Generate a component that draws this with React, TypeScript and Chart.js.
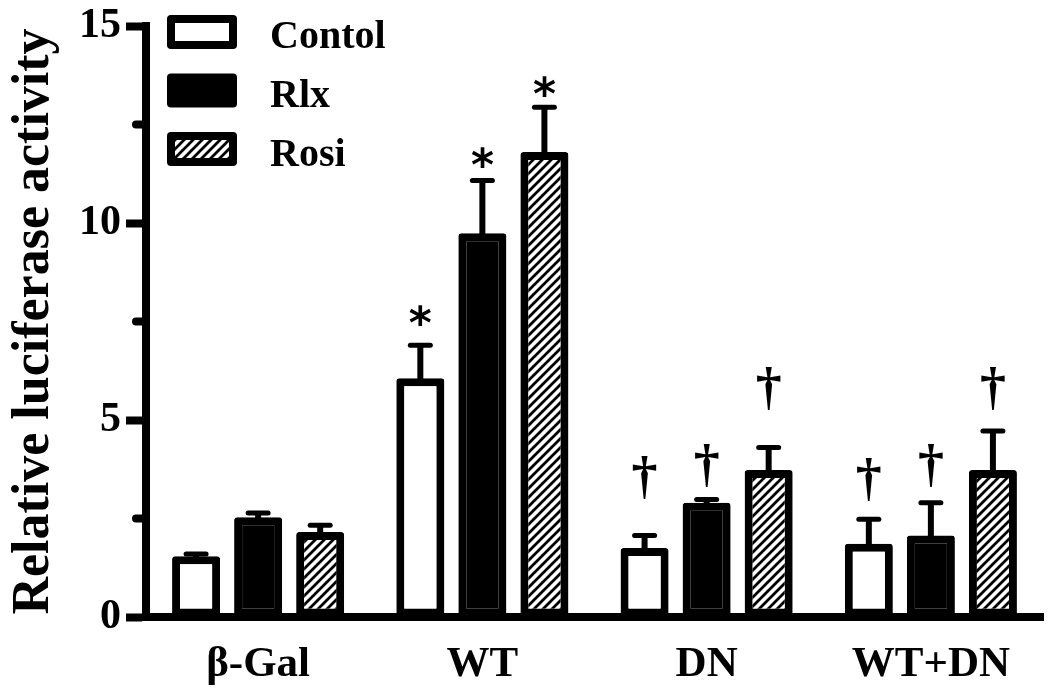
import React, { useEffect, useRef } from 'react';
import { Chart, registerables } from 'chart.js';

Chart.register(...registerables);

const categories = ['β-Gal', 'WT', 'DN', 'WT+DN'];
const seriesNames = ['Contol', 'Rlx', 'Rosi'];
const controlValues = [1.54, 6.06, 1.75, 1.86];
const rlxValues = [2.53, 9.74, 2.9, 2.07];
const rosiValues = [2.16, 11.8, 3.73, 3.73];
const controlErrTop = [1.6, 6.9, 2.07, 2.48];
const rlxErrTop = [2.64, 11.08, 2.98, 2.9];
const rosiErrTop = [2.33, 12.94, 4.3, 4.72];
const controlMarks = ['', '*', '†', '†'];
const rlxMarks = ['', '*', '†', '†'];
const rosiMarks = ['', '*', '†', '†'];
const controlMarkPos = [0, 7.66, 3.54, 3.49];
const rlxMarkPos = [0, 11.66, 3.84, 3.84];
const rosiMarkPos = [0, 13.47, 5.79, 5.79];
const yMajorStep = 5;
const yMinorTicks = [2.5, 7.5, 12.5];
const yMin = 0;
const yMax = 15;
const yTitle = 'Relative luciferase activity';

const SERIF = '"Liberation Serif", "Times New Roman", serif';

function makeHatch(): CanvasPattern | string {
  const c = document.createElement('canvas');
  c.width = 9;
  c.height = 9;
  const g = c.getContext('2d');
  if (!g) return '#fff';
  g.fillStyle = '#fff';
  g.fillRect(0, 0, 9, 9);
  g.strokeStyle = '#000';
  g.lineWidth = 2.8;
  g.lineCap = 'square';
  g.beginPath();
  g.moveTo(-2, 11);
  g.lineTo(11, -2);
  g.moveTo(-2, 2);
  g.lineTo(2, -2);
  g.moveTo(7, 11);
  g.lineTo(11, 7);
  g.stroke();
  const p = g.createPattern(c, 'repeat');
  return p || '#fff';
}

const errorBarPlugin = {
  id: 'errorBars',
  afterDatasetsDraw(chart: any) {
    const ctx = chart.ctx;
    const ys = chart.scales.y;
    ctx.save();
    ctx.strokeStyle = '#000';
    chart.data.datasets.forEach((ds: any, i: number) => {
      const meta = chart.getDatasetMeta(i);
      meta.data.forEach((bar: any, j: number) => {
        const x = bar.x;
        const top = bar.y;
        const ey = ys.getPixelForValue(ds.errTop[j]);
        ctx.lineCap = 'butt';
        ctx.lineWidth = 6;
        ctx.beginPath();
        ctx.moveTo(x, top + 2);
        ctx.lineTo(x, ey);
        ctx.stroke();
        ctx.lineCap = 'round';
        ctx.lineWidth = 5;
        ctx.beginPath();
        ctx.moveTo(x - 10, ey);
        ctx.lineTo(x + 10, ey);
        ctx.stroke();
      });
    });
    ctx.restore();
  },
};

const markerPlugin = {
  id: 'markers',
  afterDatasetsDraw(chart: any) {
    const ctx = chart.ctx;
    const ys = chart.scales.y;
    ctx.save();
    ctx.fillStyle = '#000';
    ctx.textAlign = 'left';
    ctx.textBaseline = 'alphabetic';
    chart.data.datasets.forEach((ds: any, i: number) => {
      const meta = chart.getDatasetMeta(i);
      meta.data.forEach((bar: any, j: number) => {
        const m = ds.marks[j];
        if (!m) return;
        ctx.font = m === '*' ? 'bold 44px "DejaVu Sans", sans-serif' : 'bold 52px ' + SERIF;
        const mt = ctx.measureText(m);
        const L = mt.actualBoundingBoxLeft;
        const R = mt.actualBoundingBoxRight;
        const A = mt.actualBoundingBoxAscent;
        const D = mt.actualBoundingBoxDescent;
        const cx = bar.x;
        const cy = ys.getPixelForValue(ds.markPos[j]);
        ctx.fillText(m, cx - (R - L) / 2, cy - (D - A) / 2);
      });
    });
    ctx.restore();
  },
};

const minorTickPlugin = {
  id: 'minorTicks',
  afterDraw(chart: any) {
    const ctx = chart.ctx;
    const ys = chart.scales.y;
    const x0 = chart.chartArea.left;
    ctx.save();
    ctx.strokeStyle = '#000';
    ctx.lineWidth = 8;
    ctx.lineCap = 'round';
    yMinorTicks.forEach((v) => {
      const y = ys.getPixelForValue(v);
      ctx.beginPath();
      ctx.moveTo(x0 - 10, y);
      ctx.lineTo(x0, y);
      ctx.stroke();
    });
    ctx.restore();
  },
};

const legendPlugin = {
  id: 'customLegend',
  afterDraw(chart: any) {
    const ctx = chart.ctx;
    ctx.save();
    chart.data.datasets.forEach((ds: any, i: number) => {
      const bx = 167;
      const by = 15 + 58.5 * i;
      const bw = 70;
      const bh = 34;
      ctx.fillStyle = '#000';
      ctx.beginPath();
      ctx.roundRect(bx, by, bw, bh, 4);
      ctx.fill();
      ctx.fillStyle = ds.backgroundColor;
      ctx.fillRect(bx + 8, by + 8, bw - 16, bh - 16);
      ctx.fillStyle = '#000';
      ctx.font = 'bold 40px ' + SERIF;
      ctx.textAlign = 'left';
      ctx.textBaseline = 'alphabetic';
      ctx.fillText(ds.label, 270, 48 + 59 * i);
    });
    ctx.restore();
  },
};

export default function App() {
  const ref = useRef<HTMLCanvasElement>(null);

  useEffect(() => {
    if (!ref.current) return;
    const hatch = makeHatch();
    const common = {
      borderColor: '#000',
      borderWidth: 8,
      borderSkipped: false,
      borderRadius: 3,
      inflateAmount: 0,
      categoryPercentage: 0.83,
      barPercentage: 0.774,
    };
    const chart = new Chart(ref.current, {
      type: 'bar',
      data: {
        labels: categories,
        datasets: [
          { ...common, label: seriesNames[0], data: controlValues, backgroundColor: '#fff', errTop: controlErrTop, marks: controlMarks, markPos: controlMarkPos } as any,
          { ...common, label: seriesNames[1], data: rlxValues, backgroundColor: '#000', errTop: rlxErrTop, marks: rlxMarks, markPos: rlxMarkPos } as any,
          { ...common, label: seriesNames[2], data: rosiValues, backgroundColor: hatch, errTop: rosiErrTop, marks: rosiMarks, markPos: rosiMarkPos } as any,
        ],
      },
      options: {
        responsive: false,
        animation: false,
        devicePixelRatio: 1,
        layout: { padding: { left: 0, right: 7, top: 22, bottom: 0 } },
        plugins: {
          legend: { display: false },
          tooltip: { enabled: false },
        },
        scales: {
          x: {
            z: 1,
            grid: { display: false, drawTicks: false },
            border: { display: true, color: '#000', width: 8 },
            ticks: {
              color: '#000',
              padding: 26,
              font: { family: SERIF, size: 43, weight: 'bold', lineHeight: 1 },
            },
            afterFit: (s: any) => {
              s.height = 76;
            },
          },
          y: {
            z: 1,
            min: yMin,
            max: yMax,
            grid: {
              display: true,
              drawOnChartArea: false,
              drawTicks: true,
              tickLength: 20,
              tickWidth: 8,
              tickColor: '#000',
              color: '#000',
            },
            border: { display: true, color: '#000', width: 8 },
            ticks: {
              stepSize: yMajorStep,
              color: '#000',
              padding: 5,
              font: { family: SERIF, size: 42, weight: 'bold', lineHeight: 1 },
            },
            title: {
              display: true,
              text: yTitle,
              color: '#000',
              padding: { top: 3, bottom: 0 },
              font: { family: SERIF, size: 52, weight: 'bold', lineHeight: 1.2 },
            },
            afterFit: (s: any) => {
              s.width = 146;
            },
          },
        },
      } as any,
      plugins: [errorBarPlugin, markerPlugin, minorTickPlugin, legendPlugin],
    });
    return () => chart.destroy();
  }, []);

  return (
    <div style={{ position: 'fixed', left: 0, top: 0, width: 1050, height: 693, background: '#fff' }}>
      <canvas ref={ref} width={1050} height={693} style={{ display: 'block', width: 1050, height: 693 }} />
    </div>
  );
}
